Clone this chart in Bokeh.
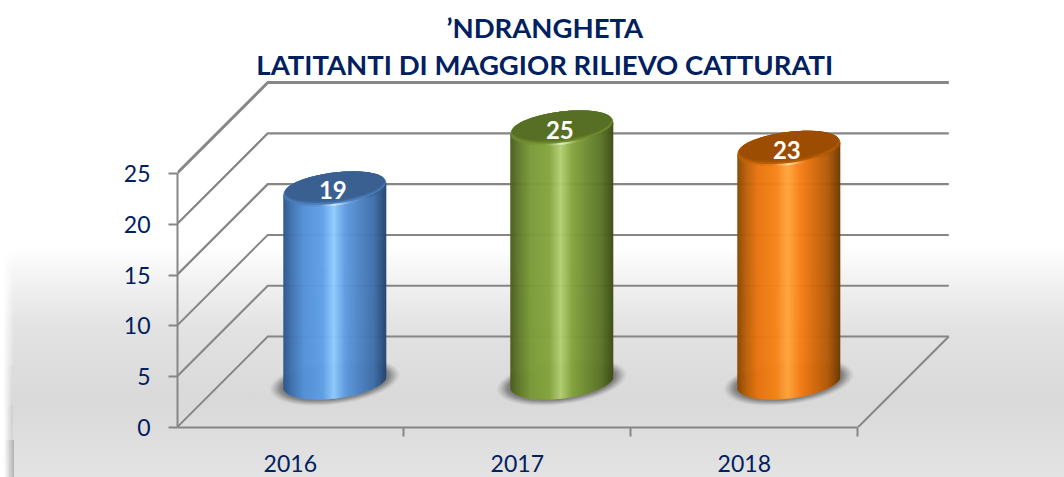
import numpy as np
from bokeh.plotting import figure
from bokeh.models import Range1d, FixedTicker, LinearAxis
from bokeh.core.properties import value
from bokeh.embed import file_html
from bokeh.resources import INLINE

# ---- data ----
years = ["2016", "2017", "2018"]
captured = [19, 25, 23]
y_ticks = [0, 5, 10, 15, 20, 25]
title_lines = ["\u2019NDRANGHETA", "LATITANTI DI MAGGIOR RILIEVO CATTURATI"]

# ---- style ----
PX_X = 227.0      # pixels per category
PX_Y = 254 / 25   # pixels per unit
DEPTH = 91.0      # 3-D offset in pixels
FONT = "Lato"
NAVY = "#002060"
GRID = "#868686"
grid_widths = [2, 2, 2, 3, 3, 4]
A = 51.5          # cylinder half width, px
K = 0.115         # ellipse shear
H = 16.5          # ellipse half height, px
X_SHIFT = 0.7     # sub-pixel alignment of the frame
CYL_SHIFT = -1.0  # cylinders' offset from the mid-depth line, px

palettes = {
    "2016": dict(
        body=[(0, "#2c5488"), (.08, "#3f72ae"), (.2, "#5490d8"), (.38, "#5f9fe6"), (.49, "#8fcbff"),
              (.6, "#5f9ce0"), (.72, "#4f86c8"), (.88, "#3f6fa8"), (1, "#23436e")],
        rim=[(0, "#3f74b4"), (.35, "#5a94d8"), (.5, "#d5e8fa"), (.65, "#6aa0dc"), (.85, "#3f6fa8"), (1, "#2b527f")],
        face=["#4a7cb8", "#3e689c", "#3a6092"]),
    "2017": dict(
        body=[(0, "#4a5c1e"), (.08, "#5f7a2a"), (.2, "#7a9a38"), (.38, "#86a540"), (.49, "#b4d072"),
              (.6, "#84a43e"), (.72, "#728f34"), (.88, "#5b7428"), (1, "#3c4c16")],
        rim=[(0, "#65802c"), (.35, "#82a23c"), (.5, "#e6f0c8"), (.65, "#8aa944"), (.85, "#5f7a2a"), (1, "#485a1e")],
        face=["#6f8b30", "#5e7828", "#566f24"]),
    "2018": dict(
        body=[(0, "#8a4500"), (.08, "#b85e08"), (.2, "#e8740e"), (.38, "#f58418"), (.49, "#ffa63c"),
              (.6, "#f9811a"), (.72, "#dc6e0c"), (.88, "#b25a08"), (1, "#6a3800")],
        rim=[(0, "#b85e08"), (.35, "#ec7a10"), (.5, "#ffe0a8"), (.65, "#f08018"), (.85, "#b25a08"), (1, "#8a4a04")],
        face=["#b85e08", "#a45204", "#9c4d02"]),
}


def lerp_colors(stops, t):
    xs = [s[0] for s in stops]
    rgb = np.array([[int(s[1][i:i + 2], 16) for i in (1, 3, 5)] for s in stops], float)
    return ["#%02x%02x%02x" % tuple(int(round(np.interp(v, xs, rgb[:, c]))) for c in range(3)) for v in t]


p = figure(width=1064, height=477, output_backend="svg", toolbar_location=None,
           x_range=Range1d(X_SHIFT / PX_X, (887 + X_SHIFT) / PX_X), y_range=Range1d(0, 427 / PX_Y),
           min_border_left=177, min_border_right=0, min_border_top=0, min_border_bottom=50,
           x_axis_type=None, y_axis_type=None)
p.outline_line_color = None
p.background_fill_alpha = 0
p.border_fill_alpha = 0
p.grid.visible = False
p.styles = {
    "background": (
        "linear-gradient(90deg, rgba(0,0,0,0) 5px, rgba(0,0,0,.20) 13.5px, rgba(0,0,0,0) 14px) 0 440px / 14px 37px no-repeat,"
        "linear-gradient(90deg, rgba(0,0,0,0) 5px, rgba(0,0,0,.07) 12.5px, rgba(0,0,0,0) 13px) 0 405px / 13px 35px no-repeat,"
        "linear-gradient(90deg, rgba(0,0,0,0) 5px, rgba(0,0,0,.03) 12.5px, rgba(0,0,0,0) 13px) 0 365px / 13px 40px no-repeat,"
        "linear-gradient(90deg, #fff 3px, rgba(255,255,255,0) 14px),"
        "linear-gradient(180deg, #fff 248px, #f2f2f2 280px, #e2e2e2 330px, #d9d9d9 400px, #e3e3e3 477px)"
    ),
}

dx = DEPTH / PX_X
dy = DEPTH / PX_Y
n_cat = len(years)

# walls
for v, w in zip(y_ticks, grid_widths):
    p.line([0, dx, n_cat + dx], [v, v + dy, v + dy], line_color=GRID, line_width=w * 0.75 if w > 2 else 2)
# floor front side
p.line([n_cat, n_cat + dx], [0, dy], line_color=GRID, line_width=2)


def ell(u, h, a=A):
    return h * np.sqrt(np.clip(1 - (u / a) ** 2, 0, 1))


# cylinders
for i, (yr, val) in enumerate(zip(years, captured)):
    pal = palettes[yr]
    cx = i + 0.5 + (DEPTH / 2 + CYL_SHIFT) / PX_X
    base = (DEPTH / 2) / PX_Y
    top = val + base

    # shadow
    t = np.linspace(0, 2 * np.pi, 80)
    for grow, al in zip([13, 11, 9, 7, 5, 3], [.07, .09, .12, .14, .16, .18]):
        a = A + grow
        h = H + grow * 0.45
        ux = a * np.cos(t)
        uy = K * ux + h * np.sin(t)
        p.patch(cx + ux / PX_X, base + uy / PX_Y, fill_color="#404040", fill_alpha=al, line_color=None)

    # body
    edges = np.linspace(-A, A, 104)
    tt = (edges[:-1] + edges[1:]) / 2
    p.quad(left=cx + edges[:-1] / PX_X, right=cx + (edges[1:] + 0.6).clip(max=A) / PX_X,
           top=top + K * tt / PX_Y,
           bottom=base + (K * tt - ell(tt, H)) / PX_Y,
           fill_color=lerp_colors(pal["body"], (tt + A) / (2 * A)), line_color=None)

    # rim of the lid
    p.quad(left=cx + edges[:-1] / PX_X, right=cx + (edges[1:] + 0.6).clip(max=A) / PX_X,
           top=top + K * tt / PX_Y,
           bottom=top + (K * tt - ell(tt, H)) / PX_Y,
           fill_color=lerp_colors(pal["rim"], (tt + A) / (2 * A)), line_color=None)
    # upper half of lid and inner bevels
    ux = A * np.cos(t)
    uy = K * ux + H * np.sin(t)
    p.patch(cx + ux / PX_X, top + uy.clip(min=K * ux) / PX_Y, fill_color=pal["face"][0], line_color=None)
    for shrink, col in zip([1.0, 2.0, 3.0], pal["face"]):
        a = A - shrink * 0.6
        h = H - shrink * 0.9
        ux = a * np.cos(t)
        uy = K * ux + h * np.sin(t) + shrink * 0.9
        p.patch(cx + ux / PX_X, top + uy / PX_Y, fill_color=col, line_color=None)

    # value label
    p.text([cx - 2.0 / PX_X], [top - 1.5 / PX_Y], text=[str(val)], text_color="white",
           text_font=value(FONT), text_font_style="bold", text_font_size="24px",
           text_align="center", text_baseline="middle")

# title
title_y = [(427 - 27) / PX_Y, (427 - 64) / PX_Y]
title_x = (545 - 177) / PX_X
p.text([title_x, title_x], title_y, text=title_lines, text_color=NAVY,
       text_font=value(FONT), text_font_style="bold", text_font_size="27.5px",
       text_align="center", text_baseline="middle")

# axes
yax = LinearAxis(ticker=FixedTicker(ticks=y_ticks), bounds=(0, 25))
yax.axis_line_color = GRID
yax.axis_line_width = 2
yax.major_tick_line_color = GRID
yax.major_tick_line_width = 2
yax.major_tick_in = 0
yax.major_tick_out = 9
yax.minor_tick_line_color = None
yax.major_label_standoff = 18
yax.major_label_text_color = NAVY
yax.major_label_text_font = FONT
yax.major_label_text_font_size = "23px"
p.add_layout(yax, "left")

xax = LinearAxis(ticker=FixedTicker(ticks=[j + 0.5 for j in range(n_cat)], minor_ticks=list(range(n_cat + 1))),
                 bounds=(0, n_cat))
xax.major_label_overrides = {j + 0.5: y for j, y in enumerate(years)}
xax.axis_line_color = GRID
xax.axis_line_width = 2
xax.major_tick_line_color = None
xax.major_tick_in = 0
xax.major_tick_out = 0
xax.minor_tick_line_color = GRID
xax.minor_tick_line_width = 2
xax.minor_tick_in = 0
xax.minor_tick_out = 9
xax.major_label_standoff = 18
xax.major_label_text_color = NAVY
xax.major_label_text_font = FONT
xax.major_label_text_font_size = "23px"
p.add_layout(xax, "below")

open("out.html", "w").write(file_html(p, INLINE))
